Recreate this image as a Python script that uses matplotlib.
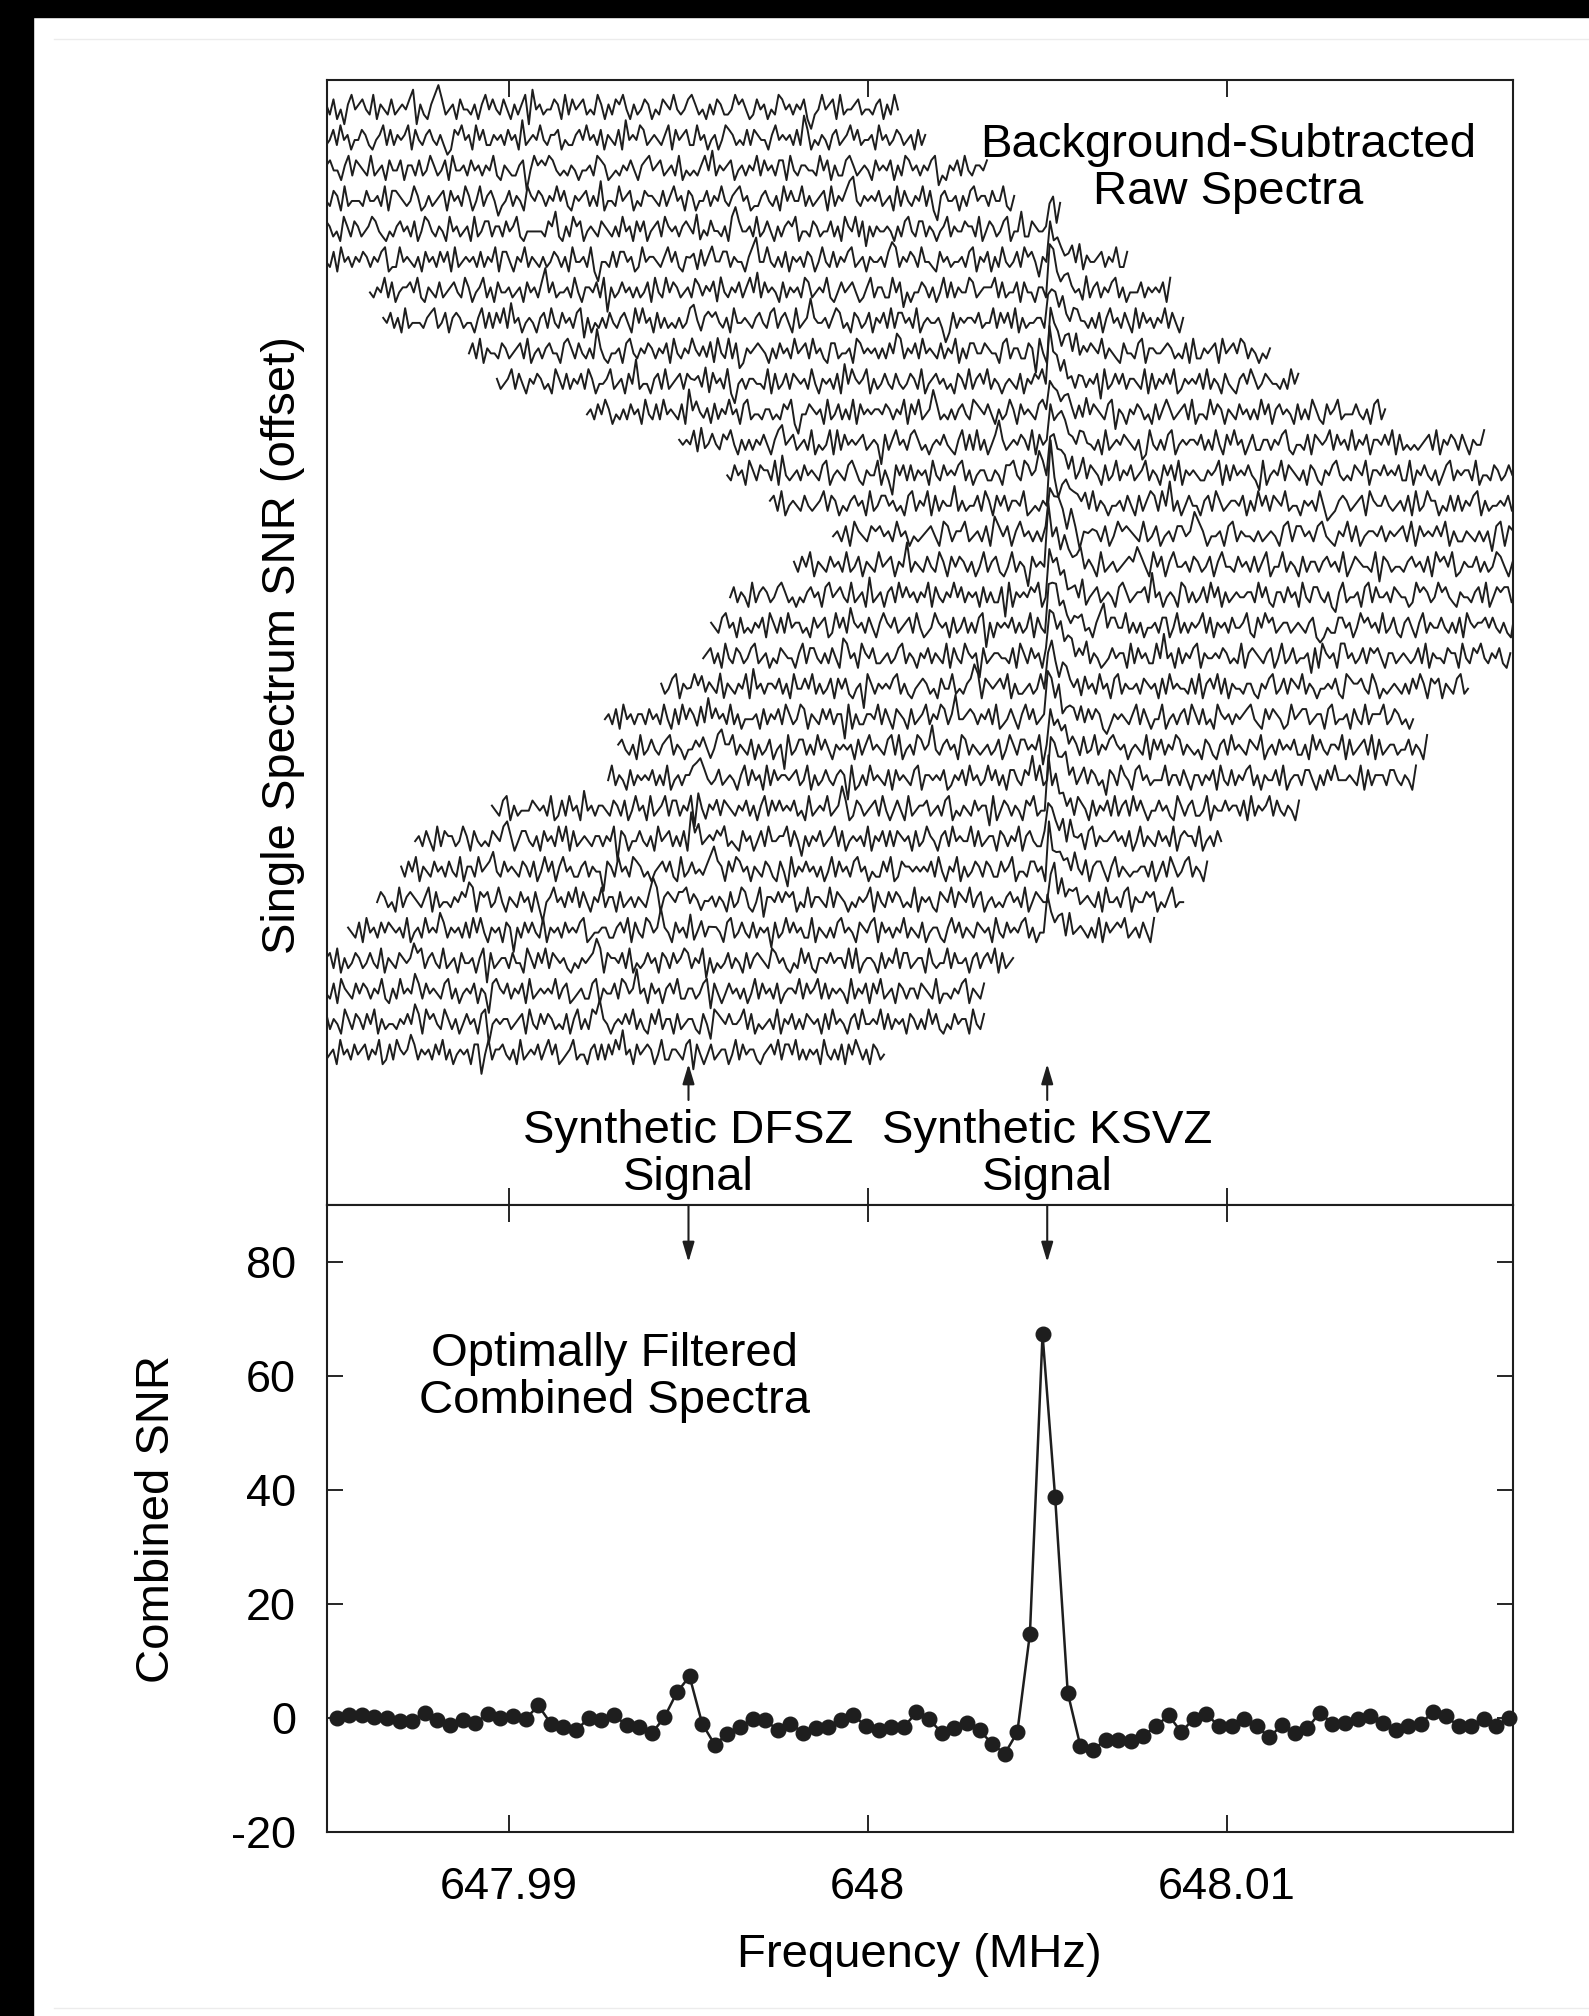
import numpy as np
import matplotlib
matplotlib.use("Agg")
import matplotlib.pyplot as plt
from matplotlib.patches import Rectangle
from matplotlib.lines import Line2D

plt.rcParams['font.family'] = ['Liberation Sans', 'DejaVu Sans']
plt.rcParams['axes.unicode_minus'] = False

# ---- combined (optimally filtered) spectrum, lower panel ----
comb_f0 = 647.98519
comb_df = 0.00035142
comb_snr = [0.0, 0.5, 0.5, 0.1, 0.0, -0.5, -0.5, 0.9, -0.3, -1.2,
            -0.3, -0.9, 0.7, 0.0, 0.4, -0.2, 2.2, -1.0, -1.6, -2.2,
            0.0, -0.3, 0.5, -1.3, -1.6, -2.7, 0.1, 4.5, 7.3, -1.0,
            -4.7, -2.8, -1.6, -0.2, -0.3, -2.2, -1.0, -2.6, -1.8, -1.6,
            -0.3, 0.5, -1.5, -2.2, -1.6, -1.6, 1.0, -0.2, -2.6, -1.8,
            -0.8, -2.2, -4.5, -6.3, -2.5, 14.8, 67.3, 38.7, 4.4, -4.9,
            -5.7, -3.8, -3.8, -4.1, -3.1, -1.5, 0.5, -2.5, -0.1, 0.7,
            -1.5, -1.5, -0.2, -1.5, -3.4, -1.2, -2.7, -1.8, 0.9, -1.0,
            -0.9, -0.1, 0.3, -0.8, -2.2, -1.5, -1.0, 1.1, 0.4, -1.5,
            -1.5, -0.1, -1.5, 0.0]

ksvz_f = 648.005
dfsz_f = 647.995

# ---- single raw spectra, upper panel (top row first) ----
row_start = [647.9848, 647.9848, 647.9848, 647.9848, 647.9848, 647.9848,
             647.98612, 647.98649, 647.98888, 647.98966, 647.99217, 647.99474,
             647.99608, 647.99727, 647.99903, 647.99794, 647.99616, 647.99563,
             647.99541, 647.99424, 647.99267, 647.99304, 647.99276, 647.98952,
             647.98738, 647.98699, 647.98632, 647.98551,
             647.9848, 647.9848, 647.9848, 647.9848]
row_end = [648.00084, 648.00160, 648.00332, 648.00408, 648.00536, 648.00723,
           648.00843, 648.00879, 648.01121, 648.01200, 648.01442, 648.01718,
           648.01848, 648.01967, 648.02143, 648.02034, 648.01856, 648.01803,
           648.01791, 648.01673, 648.01520, 648.01559, 648.01528, 648.01202,
           648.00985, 648.00946, 648.00879, 648.00798,
           648.00405, 648.00324, 648.00324, 648.00045]
ksvz_amp = [0, 0, 0, 0, 6.5, 7.0, 7.5, 7.5, 8.0, 8.5, 8.5, 9.0,
            9.5, 10.0, 10.5, 10.5, 10.5, 10.5, 10.5, 10.0, 9.5, 9.0, 8.5, 8.0,
            7.5, 7.0, 6.5, 5.5, 0, 0, 0, 0]
dfsz_ratio = 0.12
line_shape = [0.0, 1.0, 0.75, 0.55, 0.42, 0.32, 0.24, 0.18, 0.13, 0.09, 0.06, 0.04]
noise_levels = [-4.3, -3.4, -2.4, -1.5, -0.5, 0.5, 1.5, 2.4, 3.4, 4.3]

row_noise = [
    "4536241574 5643725436 3454681532 5796345264 4352574643 6425357184 5344652736 4563437525 "
    "3657425346 5243654743 4675342536 5334756423 6452437645 3546203474 5627344563 4435625374",
    "5346374524 4653245736 3545726435 6435312657 4527463354 5364528345 4743556243 3564745362 "
    "5436284547 6345435726 4563374524 5247653436 3654425745 4536396243 5425634574 6344527453 4653452635",
    "3564425736 5437345264 4625536347 5346274453 6453547325 4335604756 5764343542 4453765234 "
    "3546425674 5634537243 4357483545 6245354736 4536627435 5443746253 3675345426 4546253764 5354671325 4637435546",
    "5436527344 4364453726 6543475235 3456264537 5247356413 4635427546 5354746325 4563538244 "
    "3745624365 5436357452 6524463547 4356745233 5643527464 4735345627 3546894354 5463452736 4354736205 6445253674 5536447325",
    "4653427536 5345764324 3564536247 6435427453 4527346635 5364573244 4443658325 3756245436 "
    "5435374526 4624563754 5356437243 6443527964 4537346425 3565724436 5344635275 4736153544 5425367436 6354245735 "
    "4465537246 5346724483 3654453627",
    "5436274535 4653546723 3745435264 5364627345 4536354726 6425473543 5346535274 4537204436 "
    "3664523745 5435746325 4526357446 6354425794 4743536254 5365247436 3546734525 4453687354 6537443264 5344536725 "
    "4625374346 3756415453 5434637254 4563547336",
    "4354736245 5647325436 3456437524 5735264453 4526453694 6344537425 5463705346 4535346274 "
    "3746534526 5354627435 4635748364 5426354537 6345473246 4564235735 5337461424 4653524736 3544763455 5736344626 "
    "4425536743 5643427356 3546735244 4635454627",
    "5463527344 4356734625 6534425736 3647384524 5425637436 4536715243 5364356427 4745263534 "
    "3534674256 5643527445 4356436735 6427345954 4535763426 5346254637 3664537245 4453026354 5546344736 4637253445 "
    "5325647436 6443536257 4536427364 5354736425",
    "4637254436 5345637245 3564426753 6435395324 4526743546 5354627435 4643536274 3736125456 "
    "5425364537 4563745326 6344527645 4535364873 5463745436 3547253664 4654426735 5336507425 4425637354 6547354326 "
    "4436725544 5653436273 3545627456 4763542435",
    "5345736425 4653427536 3546375244 5734526493 4425637345 6364453726 4537204535 5443726346 "
    "3654537425 4536284754 5725346436 4346537245 6453426537 3564735424 5436254657 4745363425 5354617346 4635543726 "
    "3546472354 5463735426 4325647534 6544353746",
    "4536475243 5364527436 3745436284 6435263547 4526734435 5343657204 4654527346 3537264545 "
    "5465354726 4734596343 5356437654 6425347526 4543675234 3564253746 5436715425 4653426357 5345637244 3746525436 "
    "4535374625 6454263537 5326457344 4643526735",
    "5453627346 4365742535 3546425784 5634537243 4727364545 6345406357 4536753424 5464325736 "
    "3735246953 4546537264 5325764436 6443527345 4654351274 3536724545 5463537426 4745246335 5354673244 3626545736 "
    "4537354625 5464726343 4345637254 6536425447",
    "4364527536 5537284345 3645436724 5436753254 4725306463 6354527436 4546735245 5335426674 "
    "3764597425 4553624736 5426347354 6345735426 4637254543 3545726364 5464317245 4736543526 5325467434 3654725546 "
    "4546337254 6435246735 4553724436 5346452637",
    "5637245436 4345736524 3564527346 6453426735 4726354483 5344637526 4635547234 3547204655 "
    "5463735424 4536426357 6374935246 4425637534 5546253746 3654734425 4537412356 5345627544 6434536273 4755243636 "
    "3546725344 5463547625 4336452734",
    "4536275436 5645374524 3456427635 5734536286 4625745353 6346527404 4553624756 5437346245 "
    "3664597524 4526735443 5345426736 6453674325 4736245546 3545637264 5464725335 4353516726 5627345434 6434527356 "
    "4546735244",
    "5364725436 4537346254 3745625493 5436437526 4653524735 6324735406 4546263754 5735427345 "
    "3456586427 4625744536 5346257443 6453635724 4735426355 3564537246 5443716534 4356453627 5647235446 3534764255 "
    "4465327536 5726453443",
    "4635427356 5346753424 3564526745 6437345283 4525637464 5354726435 4746354526 3533607254 "
    "5465724336 4634537245 6345426753 4556394524 5427635346 3746253454 4553746325 5364527436 6435215734 4526736445 "
    "3654423756 5347564325 4435637246 5663425734",
    "5436745263 4354627536 3745534264 5623746385 4536425754 6345637423 4754526346 3536705254 "
    "5463534726 4325746435 5634257946 6447353524 4536624735 3545736254 5364457326 4756345534 5435621243 3664524756 "
    "4537346325 6425735446 4353627545 5646435327",
    "4563527436 5346734524 3654425736 6435364287 4527546334 5346735425 4635437264 3754506345 "
    "5443627536 4526354746 6354735423 4645527364 5337494526 3546725445 4653437256 5435624734 6344516275 4527745346 "
    "3656425534 5434637254 4365527436 5743546325",
    "5346725436 4635437254 3547284535 5463527446 4735346264 6324507535 4546735324 5653426447 "
    "3435697265 4564725334 5347416426 6435264537 4526735445 3654526374 5443637256 4736254435 5325467346 3654735424 "
    "4546327655 6437524345 4353647526 5625436734",
    "4536274535 5364537426 3745426384 6453735244 4526354637 5347625436 4635507253 3554736426 "
    "5426345735 4763594456 5354637234 6425746345 4537245536 3646521354 5435736424 4724535637 5363427545 3545674326 "
    "4654237456 6345526734 4526437355 5734653424",
    "5643527346 4356735424 3546424785 5735436253 4624507346 6353746425 4545263574 5436737245 "
    "3764594356 4527635434 5346247536 6454715325 4635426347 3546754524 5437264635 4763543426 5325637454 3654724536 "
    "4546335274 6435547263 4563726345 5344635427",
    "4735426354 5463537245 3546786434 6345425736 4527364554 5634725346 4356507235 3745436264 "
    "5436725545 4623546374 5347463526 6436594734 4545735246 3653416537 5426745344 4735536425 5354627436 3546735254 "
    "4637245536 6425364744 4543726355 5366435427",
    "5436725344 4654537236 3745284535 5436536247 4527345736 6354607425 4636543546 3525736464 "
    "5463427345 4734596236 5345637424 6427345563 4536724354 3645517246 5354265734 4737453526 5426354637 3563746424 "
    "4645327535 6334725446 4553627354 5736435426",
    "4536427365 5347526434 3654785246 6435264537 4726345435 5354706524 4643527456 3536295734 "
    "5465734326 4524637445 5736415354 6345736245 4537254636 3654526347 5425637454 4736345526 5354725643 3645436274 "
    "4526735445 6453624735 4364537256 5537245364",
    "5364725436 4536437255 3745684364 5436536247 4625745335 6354406537 4537653424 5646327345 "
    "3435796526 4764525436 5326417354 6453524736 4536745243 3647236554 5454637425 4725346536 5336457244 3664527345 "
    "4537436256 6425735434 4553624637 5346735426",
    "4653427356 5435726344 3546587265 6347425436 4526304574 5364736425 4735526345 3543697256 "
    "5466735424 4535426347 6324715546 4656243735 5437365424 3545726436 4653437254 5326547365 4735624534 3564537246 "
    "5443726355 6345436274 4536725446 5624357344",
    "5436274536 4654537245 3745486354 5363747425 4526505364 6437254536 4546723445 5335647264 "
    "3764595426 4537246355 5426734643 6354516347 4645337254 3536745426 5467264535 4735436245 5325746354 3654527436 "
    "4546735244 6435627345 4353726456 5734536427",
    "4563725346 5346437254 3654586735 6437345264 4525706345 5364427536 4736545324 3545697265 "
    "5463724346 4526536457 6354715243 4635426356 5437645324 3746325546 4553737245 5426354736 6345527434 4736445256 "
    "3564726345",
    "5436275436 4653547325 3745486364 5436735245 4625406754 6354627345 4547356234 5336725446 "
    "3764594526 4525647335 5346716424 6453524736 4536245547 3645736354 5427354626 4734526535 5365437244 3546725436",
    "4635427536 5364725344 3546486275 6437535246 4526704545 5345627436 4653436257 3537695424 "
    "5464735326 4735526345 5326417654 6445736243 4537254635 3654526374 5425637445 4736354526 5353746324 3645527436",
    "6345274536 4563547236 3754586354 5364735245 4526604735 5643527345 4635746234 5734425636 "
    "3647594526 4565247335 5436716424 6345524736 4553245647 3664735354 5274353626 4753526534",
]

XMIN, XMAX = 647.98491, 648.01799
INK = '#1e1e1e'

fig = plt.figure(figsize=(15.89, 20.16), dpi=100)

# screenshot frame around the figure
fig.patches.append(Rectangle((0, 1 - 17 / 2016), 1, 17 / 2016, transform=fig.transFigure,
                             color='black', zorder=0))
fig.patches.append(Rectangle((0, 0), 33 / 1589, 1, transform=fig.transFigure,
                             color='black', zorder=0))
fig.lines.append(Line2D([54 / 1589, 1], [1 - 39 / 2016] * 2, transform=fig.transFigure,
                        color='#ececec', lw=1))
fig.lines.append(Line2D([54 / 1589, 1], [1 - 2008 / 2016] * 2, transform=fig.transFigure,
                        color='#ececec', lw=1))

ax1 = fig.add_axes([0.2055, 0.4023, 0.7468, 0.5580])
ax2 = fig.add_axes([0.2055, 0.0913, 0.7468, 0.3110])

# upper panel: stacked raw spectra
spacing = 6.0
n = len(row_noise)
for k, s in enumerate(row_noise):
    y = np.array([noise_levels[int(c)] for c in s.replace(" ", "")])
    x = np.linspace(row_start[k], row_end[k], len(y))
    for fsig, amp in ((ksvz_f, ksvz_amp[k]), (dfsz_f, ksvz_amp[k] * dfsz_ratio)):
        if x[0] < fsig < x[-1]:
            i0 = np.searchsorted(x, fsig) - 1
            for j, v in enumerate(line_shape):
                if i0 + j < len(y):
                    y[i0 + j] += amp * v
    ax1.plot(x, y + spacing * (n - 1 - k), color=INK, lw=1.4)

ax1.set_xlim(XMIN, XMAX)
ax1.set_ylim(-30.1, 191.3)
ax1.set_xticks([647.99, 648.0, 648.01])
ax1.set_yticks([])
ax1.tick_params(axis='x', direction='in', top=True, bottom=True, labelbottom=False,
                length=12, width=1.2)

for f, name in ((dfsz_f, "Synthetic DFSZ\nSignal"), (ksvz_f, "Synthetic KSVZ\nSignal")):
    ax1.annotate('', xy=(f, -2.36), xytext=(f, -9.44),
                 arrowprops=dict(arrowstyle='-|>,head_length=0.4,head_width=0.12',
                                 color=INK, lw=1.5, mutation_scale=30, shrinkA=0, shrinkB=0))
    ax1.text(f, -27.15, name, ha='center', va='baseline', fontsize=34, linespacing=1.1)
    ax2.annotate('', xy=(f, 80), xytext=(f, 90), annotation_clip=False,
                 arrowprops=dict(arrowstyle='-|>,head_length=0.4,head_width=0.12',
                                 color=INK, lw=1.5, mutation_scale=30, shrinkA=0, shrinkB=0))

ax1.text(0.760, 0.8898, "Background-Subtracted\nRaw Spectra", transform=ax1.transAxes,
         ha='center', va='baseline', fontsize=34, linespacing=1.1)

# lower panel: combined spectrum
comb_freq = comb_f0 + comb_df * np.arange(len(comb_snr))
ax2.plot(comb_freq, comb_snr, '-o', color=INK, lw=1.8, ms=10.5, clip_on=False)
ax2.set_xlim(XMIN, XMAX)
ax2.set_ylim(-20, 90)
ax2.set_xticks([647.99, 648.0, 648.01])
ax2.set_xticklabels(["647.99", "648", "648.01"])
ax2.set_yticks([-20, 0, 20, 40, 60, 80])
ax2.set_yticklabels(["-20", "0", "20", "40", "60", "80"])
ax2.tick_params(axis='x', direction='in', top=True, bottom=True, length=12, width=1.2,
                labelsize=32.5, pad=25)
ax2.tick_params(axis='y', direction='in', left=True, right=True, length=11.5, width=1.2,
                labelsize=32.5, pad=22)
ax2.text(0.2423, 53.5, "Optimally Filtered\nCombined Spectra", transform=ax2.get_yaxis_transform(),
         ha='center', va='baseline', fontsize=34, linespacing=1.1)

for ax in (ax1, ax2):
    for sp in ax.spines.values():
        sp.set_linewidth(1.5)
        sp.set_color(INK)

fig.text(283 / 1589, 1 - 645 / 2016, "Single Spectrum SNR (offset)", rotation=90,
         ha='center', va='center', fontsize=34)
fig.text(157 / 1589, 1 - 1519 / 2016, "Combined SNR", rotation=90,
         ha='center', va='center', fontsize=34)
fig.text(919 / 1589, 1 - 1967 / 2016, "Frequency (MHz)", ha='center', va='baseline', fontsize=34)

fig.savefig("out.png", dpi=100)
